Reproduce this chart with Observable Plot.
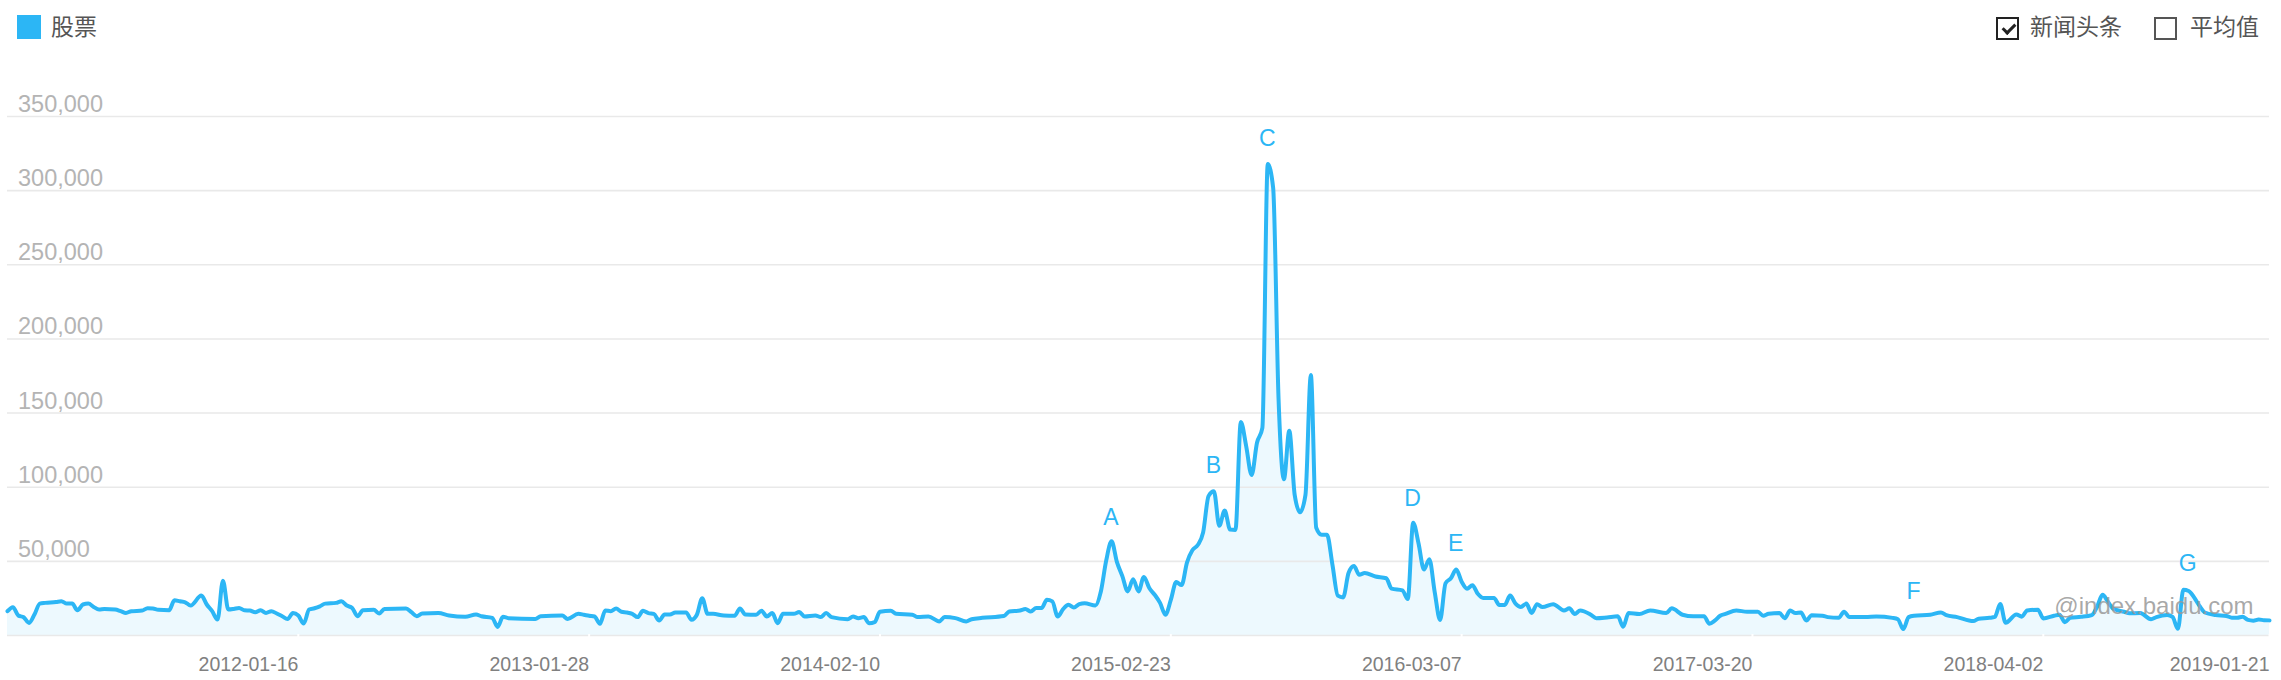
<!DOCTYPE html>
<html>
<head>
<meta charset="utf-8">
<script src="https://cdn.jsdelivr.net/npm/d3@7"></script>
<script src="https://cdn.jsdelivr.net/npm/@observablehq/plot@0.6"></script>
<style>
  html, body { margin: 0; padding: 0; background: #fff; }
  #header { position: relative; width: 2281px; height: 56px; font-family: "Noto Sans CJK SC", "Noto Sans", sans-serif; }
  #header .sq { position: absolute; left: 17px; top: 15px; width: 23.5px; height: 23.5px; background: #2cb6f5; }
  #header .lbl { position: absolute; top: 14px; font-size: 23px; line-height: 23px; color: #555; white-space: nowrap; }
  #header .box { position: absolute; top: 17px; width: 19px; height: 19px; box-sizing: content-box; background: #fff; }
  #header .box.on { border: 2px solid #222; }
  #header .box.off { border: 2px solid #555; }
  #header .tick { position: absolute; left: 7px; top: 2px; width: 5px; height: 10px; border-right: 3px solid #222; border-bottom: 3px solid #222; transform: rotate(45deg); }
  #chart svg { display: block; }
</style>
</head>
<body>
<div id="header">
  <div class="sq"></div>
  <div class="lbl" style="left:51px">股票</div>
  <div class="box on" style="left:1996px"><div class="tick"></div></div>
  <div class="lbl" style="left:2030px">新闻头条</div>
  <div class="box off" style="left:2154px"></div>
  <div class="lbl" style="left:2190px">平均值</div>
</div>
<div id="chart"></div>
<script>
// weekly series starting 2011-01-03 (week offsets) and search index values
const startDate = "2011-01-03";
const endWeek = 420;
const weekIdx = [
  0,1,2,3,4,5,6,7,9,10,11,12,13,14,15,16,17,18,20,21,22,23,25,26,27,28,30,31,32,33,34,36,37,38,39,40,
  41,42,43,44,45,46,47,48,49,50,51,52,53,54,55,56,57,58,59,61,62,63,64,65,66,68,69,70,74,75,76,77,80,82,
  85,87,88,90,91,92,93,98,99,103,104,
  106,107,108,109,110,111,112,113,114,115,116,117,118,119,120,121,122,123,124,126,127,128,129,130,131,133,
  135,136,137,139,140,141,142,143,144,146,147,148,150,151,152,153,156,157,158,159,160,161,162,164,165,168,
  169,171,173,174,176,178,179,181,185,186,188,189,190,191,192,193,194,195,196,197,198,199,200,202,203,204,
  205,206,207,208,209,210,
  211,212,213,214,215,216,217,218,219,220,221,222,223,224,225,226,227,228,229,230,231,232,233,234,235,236,
  237,238,239,240,241,242,243,244,245,246,247,248,249,250,251,252,254,256,257,259,260,261,262,263,264,265,
  266,267,268,269,270,271,272,273,274,276,277,278,279,280,281,282,283,284,285,287,289,290,291,292,294,295,
  297,299,300,301,303,305,308,309,311,313,315,316,
  317,318,319,321,323,325,326,327,329,330,331,332,333,334,335,337,338,340,341,342,345,347,350,351,352,353,
  354,357,359,360,362,365,366,368,369,370,371,373,374,375,377,378,380,381,382,383,385,387,388,389,390,391,
  393,394,396,398,399,401,402,403,404,405,406,407,408,410,412,413,414,415,416,417,418,419,420
];
const searchIndex = [
  16400,19100,13500,12300,8500,14100,21500,22000,22600,23100,21500,21500,17000,20900,21500,19300,17500,17900,17500,16400,15200,16400,16800,18400,18200,17300,17000,23800,23100,22400,20200,26900,20900,16400,10800,37000,
  17500,17900,18600,17000,16800,15700,17000,15200,16400,14800,13000,11200,15200,13500,8100,17500,18400,19700,21500,22000,23100,20200,18600,13000,17000,17300,14800,17900,18200,15700,13000,14800,15200,13500,
  12600,14100,13000,11900,5800,12600,11700,11200,13000,13500,11200,
  14600,14000,13300,12800,7900,16900,16400,18200,16000,15500,14600,12400,16700,15100,14600,10100,14200,14200,15500,15500,10600,14000,25200,14600,14600,13500,
  13300,18200,14200,14000,16700,12800,15100,8300,14600,14600,15800,12800,13500,12400,15100,12400,11000,12800,11700,12400,8300,9000,16000,16700,14600,14000,
  12400,12800,9500,12400,11700,9500,11000,11900,13100,16200,16900,17800,16200,18500,18500,24100,23000,12800,17800,20700,18900,21200,21800,20300,29500,50500,
  63500,49500,40000,29700,38000,29700,
  39500,32000,27500,22000,14000,24000,36000,34000,49200,57500,61000,69500,94000,97300,74000,84300,71500,71200,144000,127600,108200,130000,140000,317900,302000,160000,
  105300,138100,94800,83100,94800,175600,72600,67900,67900,48000,26900,25700,42100,46800,41000,42100,39800,38600,31600,30400,24600,76100,62000,44500,51500,29300,
  10500,35100,38600,44500,36300,31600,33900,28100,25300,25300,20600,20600,26900,21500,19200,21500,15200,21100,19200,21100,16900,18300,14500,16900,14000,11700,
  12200,12900,5900,15200,14500,16900,15200,18300,14000,12900,12900,8000,
  10000,13300,14600,16900,16000,16000,13300,14600,15100,11700,16900,15100,15500,10100,13700,13300,12400,11900,16000,12400,12400,12800,11900,11000,4300,12400,
  13300,14000,15500,13700,12400,9700,11300,11900,12500,21300,8600,14200,12700,16900,17400,11500,13300,14000,9000,12000,12600,13800,19600,27400,22800,18000,
  16000,15000,15100,11000,12400,13800,12500,4500,30800,30000,25700,20000,15500,13800,13200,12000,12000,12600,10500,10000,10800,10300,10200
];
const xTickLabels = ["2012-01-16","2013-01-28","2014-02-10","2015-02-23","2016-03-07","2017-03-20","2018-04-02","2019-01-21"];
const yTicks = [0, 50000, 100000, 150000, 200000, 250000, 300000, 350000];
const noteLetters = ["A","B","C","D","E","F","G"];
const noteWeeks = [204.9, 223.9, 233.9, 260.9, 268.9, 353.9, 404.8];
const noteValues = [74800, 109600, 330100, 87100, 56700, 24800, 43200];

const WEEK = 7 * 864e5;
const t0 = new Date(startDate).getTime();
const weekDate = (w) => new Date(t0 + w * WEEK);
const series = weekIdx.map((w, i) => ({date: weekDate(w), value: searchIndex[i]}));
const tickDates = xTickLabels.map(s => new Date(s));
const notes = noteLetters.map((l, i) => ({letter: l, date: weekDate(noteWeeks[i]), value: noteValues[i]}));

const blue = "#2cb6f5";
const chart = Plot.plot({
  width: 2281,
  height: 624,
  marginLeft: 7,
  marginRight: 12,
  marginTop: 60,
  marginBottom: 45,
  style: {fontFamily: "'Liberation Sans', Arial, Helvetica, sans-serif", background: "#fff", overflow: "visible"},
  x: {type: "utc", domain: [weekDate(0), weekDate(endWeek)], axis: null},
  y: {domain: [0, 350000], axis: null},
  marks: [
    Plot.areaY(series, {x: "date", y: "value", fill: blue, fillOpacity: 0.085, curve: "monotone-x"}),
    Plot.ruleY(yTicks, {stroke: "#e9e9e9", strokeWidth: 1.6}),
    Plot.ruleX(tickDates, {x: d => d, y1: -2600, y2: 700, stroke: "#fff", strokeWidth: 2}),
    Plot.lineY(series, {x: "date", y: "value", stroke: blue, strokeWidth: 4, curve: "monotone-x", strokeLinejoin: "round", strokeLinecap: "round"}),
    Plot.text(yTicks.filter(d => d > 0), {y: d => d, text: d => d3.format(",")(d), frameAnchor: "left", textAnchor: "start", lineAnchor: "bottom", dx: 10.5, dy: -4.5, fill: "#b4b4b4", fontSize: 23.5}),
    Plot.text(tickDates, {x: d => d, text: (d, i) => xTickLabels[i], frameAnchor: "bottom", textAnchor: "end", lineAnchor: "bottom", dy: 35, fill: "#808080", fontSize: 19.5}),
    Plot.text(notes, {x: "date", y: "value", text: "letter", textAnchor: "middle", lineAnchor: "bottom", fill: blue, fontSize: 23}),
    Plot.text(["@index.baidu.com"], {frameAnchor: "bottom-right", text: d => d, textAnchor: "end", lineAnchor: "bottom", dx: -16, dy: -22, fill: "#999", fillOpacity: 0.85, fontSize: 24})
  ]
});
document.getElementById("chart").appendChild(chart);
</script>
</body>
</html>
